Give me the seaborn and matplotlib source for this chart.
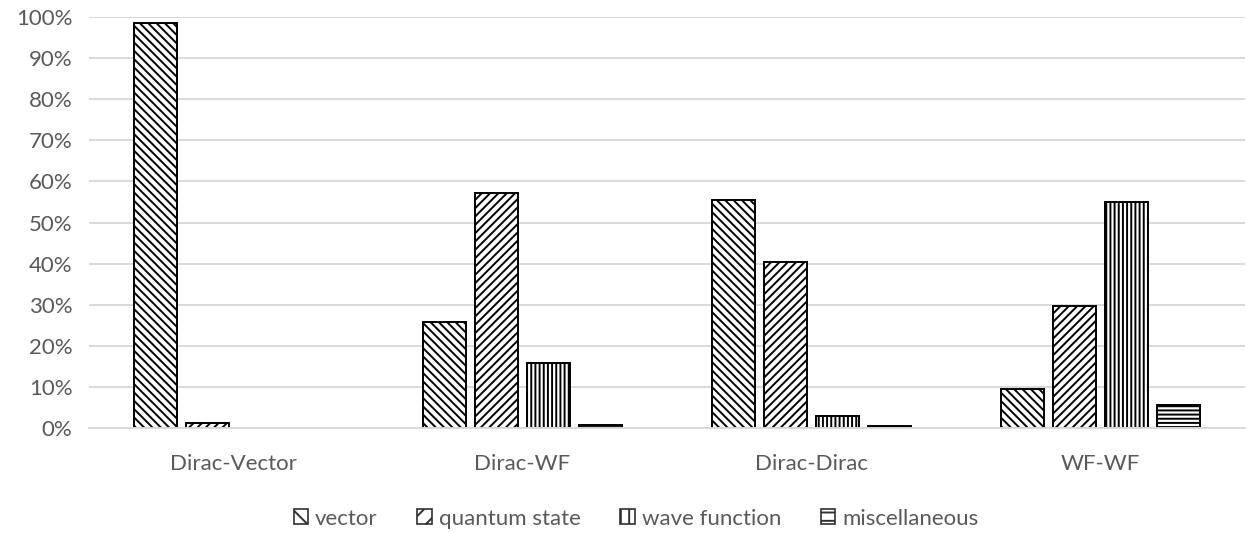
import numpy as np
import pandas as pd
import seaborn as sns
import matplotlib
matplotlib.use("Agg")
import matplotlib.pyplot as plt
from matplotlib.patches import Patch
from matplotlib.ticker import PercentFormatter, MultipleLocator

# Share of each term within every comparison pair
categories = ["Dirac-Vector", "Dirac-WF", "Dirac-Dirac", "WF-WF"]
series = ["vector", "quantum state", "wave function", "miscellaneous"]
vector = [0.985, 0.257, 0.556, 0.094]
quantum_state = [0.012, 0.573, 0.404, 0.297]
wave_function = [np.nan, 0.157, 0.029, 0.550]
miscellaneous = [np.nan, 0.007, 0.005, 0.057]
hatches = ["\\\\\\\\", "////", "||||", "----"]

rows = []
for name, vals in zip(series, [vector, quantum_state, wave_function, miscellaneous]):
    for cat, v in zip(categories, vals):
        rows.append({"pair": cat, "term": name, "share": v})
df = pd.DataFrame(rows)

sns.set_theme(style="white")
plt.rcParams["font.family"] = ["Lato", "DejaVu Sans"]
plt.rcParams["hatch.linewidth"] = 1.4
plt.rcParams["hatch.color"] = "#606060"

fig = plt.figure(figsize=(12.47, 5.33), dpi=100)
ax = fig.add_axes([0.0714, 0.197, 0.927, 0.771])

sns.barplot(data=df, x="pair", y="share", hue="term", order=categories,
            hue_order=series, palette=["white"] * 4, width=0.72, gap=0.19,
            edgecolor="black", linewidth=1.4, errorbar=None, legend=False, ax=ax)

for cont, h in zip(ax.containers, hatches):
    for p in cont.patches:
        p.set_hatch(h)
        if hasattr(p, "set_hatchcolor"):
            p.set_hatchcolor("#606060")

ax.set_ylim(0, 1.0)
ax.set_xlim(-0.5, len(categories) - 0.5)
ax.yaxis.set_major_locator(MultipleLocator(0.1))
ax.yaxis.set_major_formatter(PercentFormatter(1.0, decimals=0))
ax.grid(axis="y", color="#d9d9d9", linewidth=1.4)
ax.set_axisbelow(True)
for s in ["top", "right", "left"]:
    ax.spines[s].set_visible(False)
ax.spines["bottom"].set_color("#d9d9d9")
ax.spines["bottom"].set_linewidth(1.4)
ax.set_xlabel("")
ax.set_ylabel("")
ax.tick_params(axis="x", length=0, pad=19, labelsize=16, labelcolor="#595959")
ax.tick_params(axis="y", length=0, pad=12, labelsize=16, labelcolor="#595959")

handles = []
for name, h in zip(series, hatches):
    hp = Patch(facecolor="white", edgecolor="#303030", hatch=h[:2], linewidth=1.2, label=name)
    handles.append(hp)
fig.legend(handles=handles, loc="center", bbox_to_anchor=(0.51, 0.027), ncol=4,
           frameon=False, fontsize=16, handlelength=0.65, handleheight=0.65,
           handletextpad=0.3, columnspacing=1.8, labelcolor="#595959")

fig.savefig("out.png", dpi=100)
